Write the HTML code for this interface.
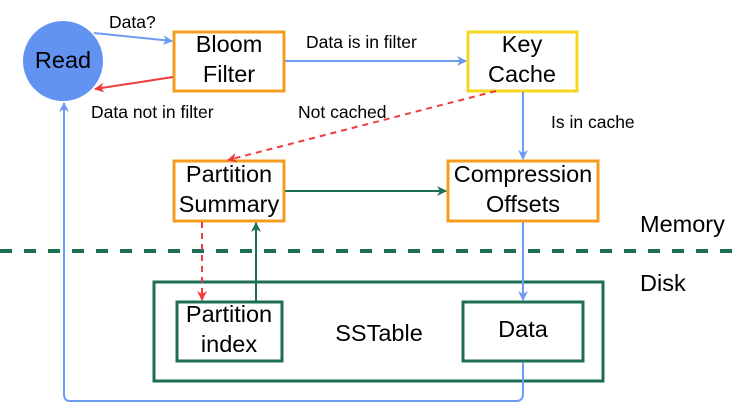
<!DOCTYPE html>
<html><head><meta charset="utf-8"><style>
html,body{margin:0;padding:0;background:#fff;}
svg{display:block;font-family:"Liberation Sans",Arial,sans-serif;}
</style></head><body>
<svg width="737" height="415" viewBox="0 0 737 415" xmlns="http://www.w3.org/2000/svg">
<defs>
<marker id="ab" markerWidth="10" markerHeight="10" refX="9" refY="5" orient="auto" markerUnits="userSpaceOnUse"><path d="M0,0 L10,5 L0,10 L3,5 z" fill="#6d9af3"/></marker>
<marker id="ar" markerWidth="10" markerHeight="10" refX="9" refY="5" orient="auto" markerUnits="userSpaceOnUse"><path d="M0,0 L10,5 L0,10 L3,5 z" fill="#f03c3c"/></marker>
<marker id="ag" markerWidth="10" markerHeight="10" refX="9" refY="5" orient="auto" markerUnits="userSpaceOnUse"><path d="M0,0 L10,5 L0,10 L3,5 z" fill="#1c6e54"/></marker>
</defs>
<line x1="0" y1="251" x2="737" y2="251" stroke="#1c6e54" stroke-width="4" stroke-dasharray="12 12"/>
<text x="640" y="232" font-size="23.5">Memory</text>
<text x="640" y="291" font-size="23.5">Disk</text>
<circle cx="63" cy="61" r="40" fill="#6293f3"/>
<text x="63" y="68" font-size="23.5" text-anchor="middle">Read</text>
<rect x="174" y="32" width="110" height="59" fill="#fff" stroke="#f39c1f" stroke-width="3"/>
<text x="229" y="52" font-size="23.5" text-anchor="middle">Bloom</text>
<text x="229" y="82" font-size="23.5" text-anchor="middle">Filter</text>
<rect x="468" y="32" width="109" height="59" fill="#fff" stroke="#f5d81e" stroke-width="3"/>
<text x="522" y="52" font-size="23.5" text-anchor="middle">Key</text>
<text x="522" y="82" font-size="23.5" text-anchor="middle">Cache</text>
<rect x="174" y="161" width="110" height="60" fill="#fff" stroke="#f39c1f" stroke-width="3"/>
<text x="229" y="182" font-size="23.5" text-anchor="middle">Partition</text>
<text x="229" y="212" font-size="23.5" text-anchor="middle">Summary</text>
<rect x="448" y="161" width="150" height="60" fill="#fff" stroke="#f39c1f" stroke-width="3"/>
<text x="523" y="182" font-size="23.5" text-anchor="middle">Compression</text>
<text x="523" y="212" font-size="23.5" text-anchor="middle">Offsets</text>
<rect x="154" y="282" width="449" height="99" fill="none" stroke="#1c6e54" stroke-width="3"/>
<rect x="177" y="302" width="105" height="59" fill="#fff" stroke="#1c6e54" stroke-width="3"/>
<text x="229" y="322" font-size="23.5" text-anchor="middle">Partition</text>
<text x="229" y="352" font-size="23.5" text-anchor="middle">index</text>
<rect x="463" y="302" width="120" height="59" fill="#fff" stroke="#1c6e54" stroke-width="3"/>
<text x="523" y="337" font-size="23.5" text-anchor="middle">Data</text>
<text x="379" y="341" font-size="23.5" text-anchor="middle">SSTable</text>
<line x1="94" y1="33" x2="172" y2="41" stroke="#6d9af3" stroke-width="2" marker-end="url(#ab)"/>
<text x="109" y="28" font-size="17.5">Data?</text>
<line x1="173" y1="77" x2="95" y2="89" stroke="#f03c3c" stroke-width="2" marker-end="url(#ar)"/>
<text x="91" y="118" font-size="17.5">Data not in filter</text>
<line x1="285" y1="61" x2="466" y2="61" stroke="#6d9af3" stroke-width="2" marker-end="url(#ab)"/>
<text x="306" y="48" font-size="17.5">Data is in filter</text>
<line x1="523" y1="92" x2="523" y2="159" stroke="#6d9af3" stroke-width="2" marker-end="url(#ab)"/>
<text x="551" y="128" font-size="17.5">Is in cache</text>
<line x1="496" y1="91" x2="228" y2="160" stroke="#f03c3c" stroke-width="2" stroke-dasharray="6 5" marker-end="url(#ar)"/>
<text x="298" y="118" font-size="17.5">Not cached</text>
<line x1="285" y1="191" x2="446" y2="191" stroke="#1c6e54" stroke-width="2" marker-end="url(#ag)"/>
<line x1="202" y1="222" x2="202" y2="300" stroke="#f03c3c" stroke-width="2" stroke-dasharray="6 5" marker-end="url(#ar)"/>
<line x1="256" y1="301" x2="256" y2="223" stroke="#1c6e54" stroke-width="2" marker-end="url(#ag)"/>
<line x1="523" y1="222" x2="523" y2="300" stroke="#6d9af3" stroke-width="2" marker-end="url(#ab)"/>
<path d="M523,362 L523,394 Q523,401 516,401 L70,401 Q64,401 64,394 L64,103" fill="none" stroke="#6d9af3" stroke-width="2" marker-end="url(#ab)"/>
</svg>
</body></html>
